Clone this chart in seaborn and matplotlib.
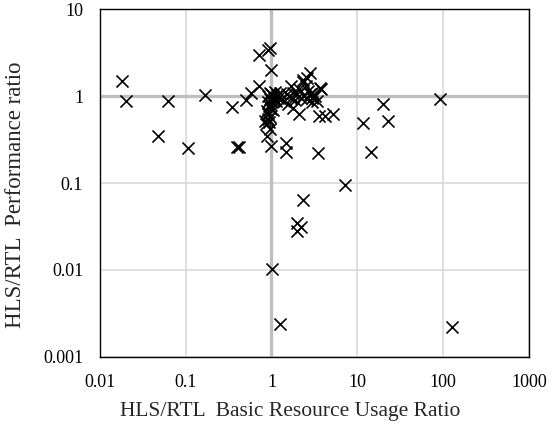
import matplotlib
matplotlib.use("Agg")
import matplotlib.pyplot as plt
import seaborn as sns
import pandas as pd
from matplotlib.ticker import FixedLocator, FixedFormatter, NullLocator

# Data
resource_ratio = [
    0.018, 0.02, 0.063, 0.047, 0.105, 0.17, 0.35, 0.40, 0.42, 0.50, 0.57, 0.72,
    0.72, 0.90, 0.95, 1.0, 0.84, 0.88, 0.95, 1.0, 1.47, 1.47, 2.34, 1.8, 2.1,
    2.3, 2.8, 2.6, 3.8, 3.6, 4.2, 5.2, 3.5, 7.2, 11.7, 14.3, 19.7, 23, 91,
    2.0, 2.2, 2.0, 1.02, 1.25, 128,
    0.92, 0.95, 0.97, 1.0, 1.02, 1.05, 1.08, 1.1, 0.9, 0.93, 1.0, 1.12, 1.15,
    1.2, 0.88, 0.92, 0.96, 0.9, 0.98, 1.05, 0.86, 0.94, 1.25, 1.3, 1.4, 1.5,
    1.6, 1.7, 1.8, 1.9, 2.0, 2.1, 2.2, 2.4, 2.5, 2.6, 2.8, 3.0, 3.2, 3.4, 2.3,
    2.7, 3.0, 1.55, 1.7, 3.66, 3.0,
]
performance_ratio = [
    1.5, 0.87, 0.87, 0.35, 0.25, 1.03, 0.76, 0.26, 0.26, 0.90, 1.1, 1.3,
    3.0, 3.4, 3.6, 2.0, 0.52, 0.35, 0.42, 0.265, 0.29, 0.225, 0.063, 0.73, 0.63,
    1.55, 1.85, 1.6, 1.2, 0.59, 0.59, 0.62, 0.22, 0.096, 0.49, 0.23, 0.82, 0.52, 0.93,
    0.035, 0.031, 0.028, 0.0103, 0.0024, 0.0022,
    1.0, 1.1, 0.92, 1.05, 0.85, 1.0, 0.95, 1.12, 0.85, 0.78, 0.8, 0.88, 1.02,
    0.95, 0.68, 0.62, 0.58, 0.55, 0.72, 0.7, 0.48, 0.5, 1.1, 0.92, 0.88, 1.05,
    1.0, 0.95, 1.1, 0.9, 1.05, 1.2, 0.95, 1.0, 1.3, 0.92, 1.05, 0.95, 1.0, 0.88, 1.45,
    1.15, 1.1, 0.82, 1.3, 1.25, 0.85,
]
x_ticks = [0.01, 0.1, 1, 10, 100, 1000]
x_tick_labels = ["0.01", "0.1", "1", "10", "100", "1000"]
y_ticks = [0.001, 0.01, 0.1, 1, 10]
y_tick_labels = ["0.001", "0.01", "0.1", "1", "10"]

df = pd.DataFrame({"x": resource_ratio, "y": performance_ratio})

sns.set_style("white")
plt.rcParams["font.family"] = ["Liberation Serif", "DejaVu Serif"]

fig = plt.figure(figsize=(5.52, 4.28), dpi=100)
ax = fig.add_axes([0.181, 0.1666, 0.777, 0.8116])

ax.set_xscale("log")
ax.set_yscale("log")
ax.set_xlim(0.01, 1000)
ax.set_ylim(0.001, 10)

for t in x_ticks:
    ax.axvline(t, color="#d9d9d9", lw=1.2, zorder=0)
for t in y_ticks:
    ax.axhline(t, color="#d9d9d9", lw=1.2, zorder=0)
ax.axvline(1, color="#bfbfbf", lw=2.4, zorder=1)
ax.axhline(1, color="#bfbfbf", lw=2.4, zorder=1)

sns.scatterplot(data=df, x="x", y="y", marker="x", color="black", s=75,
                linewidth=1.2, ax=ax, zorder=3, legend=False)

ax.xaxis.set_major_locator(FixedLocator(x_ticks))
ax.xaxis.set_major_formatter(FixedFormatter(x_tick_labels))
ax.yaxis.set_major_locator(FixedLocator(y_ticks))
ax.yaxis.set_major_formatter(FixedFormatter(y_tick_labels))
ax.xaxis.set_minor_locator(NullLocator())
ax.yaxis.set_minor_locator(NullLocator())
ax.tick_params(axis="both", length=0, labelsize=13, colors="black")
ax.tick_params(axis="x", pad=12.5)
ax.tick_params(axis="y", pad=12)

for s in ax.spines.values():
    s.set_visible(True)
    s.set_color("black")
    s.set_linewidth(1.0)

ax.set_xlabel("HLS/RTL  Basic Resource Usage Ratio", fontsize=15.5)
ax.set_ylabel("HLS/RTL  Performance ratio", fontsize=16.5)
ax.xaxis.set_label_coords(0.443, -0.131)
ax.yaxis.set_label_coords(-0.1725, 0.466)

fig.savefig("out.png", dpi=100)
